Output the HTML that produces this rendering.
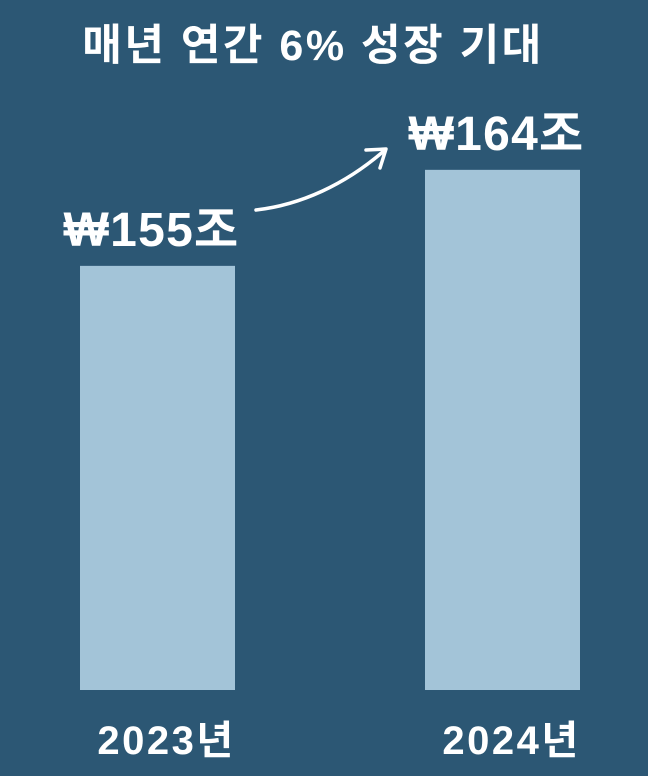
<!DOCTYPE html>
<html><head><meta charset="utf-8"><style>
html,body{margin:0;padding:0;background:#2c5774;}
svg{display:block}
text{font-family:"Liberation Sans","Noto Sans CJK KR",sans-serif;fill:#fff;font-weight:bold}
</style></head><body>
<svg width="648" height="776">
<rect width="648" height="776" fill="#2c5774"/>
<text x="313" y="60" text-anchor="middle" font-size="43" letter-spacing="2.5">매년 연간 6% 성장 기대</text>
<g id="bars"></g>
<path d="M256,210 C300,205 345,185 385,150" stroke="#fff" stroke-width="3.5" fill="none" stroke-linecap="round"/>
<path d="M366,150 L386,149 L380,168" stroke="#fff" stroke-width="3.5" fill="none" stroke-linecap="round" stroke-linejoin="round"/>
</svg>
<script>
const categories=["2023년","2024년"];
const values=[155,164];
const valueLabels=["₩155조","₩164조"];
const baseY=690, vMin=115.25, pxPerUnit=10.67;
function y(v){return baseY-(v-vMin)*pxPerUnit;}
function xc(i){return 157.5+i*345;}
const g=document.getElementById('bars');
const ns="http://www.w3.org/2000/svg";
categories.forEach((c,i)=>{
  const r=document.createElementNS(ns,'rect');
  r.setAttribute('x',xc(i)-77.5);r.setAttribute('width',155);
  r.setAttribute('y',y(values[i]));r.setAttribute('height',baseY-y(values[i]));
  r.setAttribute('fill','#a3c4d8');
  
  
  g.appendChild(r);
  const t=document.createElementNS(ns,'text');
  t.setAttribute('x',xc(i)-6);t.setAttribute('y',y(values[i])-20);
  t.setAttribute('text-anchor','middle');t.setAttribute('font-size','48');
  t.setAttribute('letter-spacing','1.3');
  t.textContent=valueLabels[i];
  
  
  g.appendChild(t);
  const l=document.createElementNS(ns,'text');
  l.setAttribute('x',xc(i)+9);l.setAttribute('y',754);
  l.setAttribute('text-anchor','middle');l.setAttribute('font-size','40');
  l.setAttribute('letter-spacing','2.5');
  l.textContent=c;
  
  
  g.appendChild(l);
});
</script>
</body></html>
